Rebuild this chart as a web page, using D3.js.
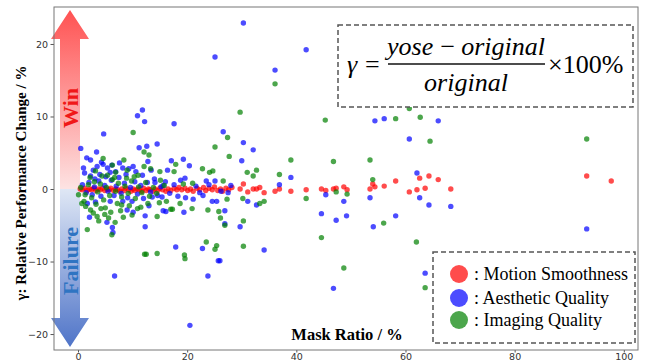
<!DOCTYPE html>
<html>
<head>
<meta charset="utf-8">
<script src="https://cdn.jsdelivr.net/npm/d3@7"></script>
<style>
  body { margin: 0; background: #fff; }
  svg { display: block; }
  .tick text { font-family: "DejaVu Sans", sans-serif; font-size: 9.5px; fill: #333; }
  .tick line { stroke: #555; }
</style>
</head>
<body>
<svg id="chart" width="652" height="362"></svg>
<script>
const SERIF = '"Liberation Serif", "Times New Roman", "DejaVu Serif", serif';

// series names (legend order)
const seriesNames = ['Motion Smoothness', 'Aesthetic Quality', 'Imaging Quality'];
const seriesColors = ['#ff0000', '#0000ff', '#008000'];

const xTicks = [0, 20, 40, 60, 80, 100];
const yTicks = [-20, -10, 0, 10, 20];

// [mask ratio %, relative change %]
const motionSmoothness = [
  [0.4, 0.0], [0.8, -0.1], [1.2, 0.1], [1.7, -0.2], [2.1, 0.0], [2.5, -0.1], [2.9, 0.1], [3.3, -0.2],
  [3.7, 0.0], [4.1, -0.1], [4.5, 0.1], [4.9, -0.2], [5.3, 0.0], [5.7, -0.1], [6.0, 0.1], [6.5, -0.2],
  [6.9, 0.0], [7.2, -0.1], [7.7, -0.3], [8.0, 0.0], [8.5, -0.2], [8.8, 0.1], [9.3, -0.1], [9.7, -0.3],
  [10.1, 0.0], [10.4, -0.2], [10.9, 0.0], [11.2, -0.1], [11.7, -0.3], [12.0, 0.1], [12.5, -0.2], [12.9, 0.0],
  [13.2, -0.1], [13.7, -0.3], [14.1, 0.0], [14.6, -0.2], [15.0, 0.1], [15.5, -0.1], [16.1, -0.3], [16.5, 0.0],
  [17.0, -0.2], [17.6, 0.1], [18.1, -0.1], [18.5, 0.2], [19.0, -0.1], [19.6, 0.1], [20.1, -0.2], [20.6, 0.0],
  [21.1, -0.3], [21.8, 0.1], [22.3, -0.1], [23.0, 0.2], [23.4, -0.2], [24.0, 0.1], [24.6, -0.1], [25.0, 0.3],
  [25.6, -0.2], [26.1, 0.0], [26.5, -0.3], [27.1, 0.1], [27.6, -0.1], [28.2, 0.2],
  [29.7, 0.0], [30.3, 0.7], [31.1, -0.4], [32.1, 0.0], [32.7, 0.0], [33.3, 0.2], [34.1, -0.5], [36.1, -0.3],
  [36.9, 0.0], [39.0, -0.3], [41.8, -0.1], [44.6, 0.0], [45.4, -0.2], [46.8, 0.0], [47.3, 0.1], [48.7, 0.3],
  [49.3, -0.1], [53.5, 0.0], [54.0, 0.7], [54.4, 0.3], [56.1, 0.4], [58.2, 1.1], [60.7, -0.4], [62.1, -0.1],
  [62.6, 1.5], [63.6, 0.1], [64.3, 1.8], [66.0, 1.3], [68.3, 0.0], [93.2, 1.8], [97.7, 1.1]
];

const aestheticQuality = [
  [30.3, 22.9], [41.8, 19.2], [25.1, 18.2], [36.1, 16.4], [11.8, 10.9], [10.9, 10.1], [12.2, 9.3], [17.6, 9.0],
  [54.4, 9.4], [56.1, 9.7], [66.0, 9.4], [26.6, 7.9], [4.7, 7.6], [30.3, 6.4], [60.7, 6.9], [0.5, 5.6],
  [11.2, 5.7], [12.6, 5.9], [14.5, 6.2], [3.4, 5.1], [32.1, 5.4], [1.6, 4.3], [2.3, 4.0], [4.3, 3.7],
  [4.6, 3.4], [3.5, 3.1], [1.0, 2.9], [12.8, 3.8], [10.1, 3.1], [8.2, 2.9], [9.3, 2.8], [17.1, 3.9],
  [19.3, 4.1], [20.4, 3.2], [16.4, 2.6], [30.0, 3.9], [2.3, 1.8], [5.1, 1.7], [5.9, 2.3], [14.1, 0.9],
  [15.6, 0.5], [18.8, 1.2], [19.6, 1.5], [23.5, 1.1], [25.1, 1.1], [39.0, 1.6], [62.1, 2.2], [36.9, 0.6],
  [1.2, 2.2], [2.8, 2.6], [4.0, 2.0], [5.4, 2.9], [6.9, 2.4], [7.6, 3.6], [8.8, 2.0], [10.6, 2.4],
  [11.8, 1.9], [13.4, 2.6], [6.2, 3.3], [3.1, 1.4],
  [0.8, 0.6], [1.5, -0.5], [2.0, 0.9], [2.6, -0.8], [3.0, 0.3], [3.8, 1.1], [4.2, -1.0], [4.9, 0.5],
  [5.5, -0.3], [6.1, 1.2], [6.6, -0.9], [7.0, 0.4], [7.5, 1.6], [7.9, -0.6], [8.5, 0.8], [9.1, -1.2],
  [9.6, 0.2], [10.4, 1.0], [10.9, -0.7], [11.5, 0.5], [12.0, -1.3], [12.7, 0.9], [13.3, -0.4], [14.0, 1.4],
  [14.6, -0.9], [15.2, 0.3], [16.0, 1.0], [16.8, -0.6], [17.6, 0.6], [18.3, -1.0], [21.6, 0.4], [22.3, -0.5],
  [24.0, 0.6], [26.2, -0.3], [28.0, 0.5],
  [27.5, -0.5], [31.1, -1.7], [32.7, -2.2], [45.4, -0.8], [48.7, -1.7], [53.5, -1.2], [62.6, -1.2], [64.3, -2.2],
  [68.3, -2.4], [26.9, -3.0], [26.9, -4.8], [29.7, -5.2], [44.6, -3.4], [47.3, -4.3], [49.2, -3.7], [54.1, -5.2],
  [58.2, -3.7], [34.1, -8.4], [26.0, -9.9], [46.8, -13.7], [63.6, -11.6], [93.2, -5.5], [97.7, -20.0], [19.7, -1.2],
  [21.1, -1.4], [22.9, -0.9], [24.6, -1.7], [25.4, -1.7], [19.4, -3.2], [16.1, -3.1], [17.9, -8.0], [22.8, -8.2],
  [25.7, -9.9], [23.8, -12.0], [2.1, -3.9], [5.3, -4.6], [6.3, -5.3], [6.4, -6.0], [12.3, -5.2], [12.3, -3.7],
  [9.0, -2.9], [10.1, -3.2], [13.0, -2.3], [8.2, -1.7], [9.9, -1.7], [5.9, -1.7], [3.2, -1.8], [1.7, -2.0],
  [13.6, -1.1], [15.4, -1.1], [15.6, -3.0], [6.7, -12.0], [20.5, -18.8]
];

const imagingQuality = [
  [36.1, 14.5], [54.4, 12.0], [68.3, 12.0], [60.7, 11.1], [29.7, 10.6], [45.3, 9.5], [58.2, 9.7], [62.7, 9.9],
  [10.1, 7.8], [27.4, 7.1], [64.5, 6.6], [93.2, 6.9], [25.1, 5.8], [27.7, 4.5], [12.1, 5.1], [13.0, 4.7],
  [4.6, 4.2], [8.4, 4.0], [39.0, 4.0], [46.8, 3.8], [53.5, 4.0], [17.9, 3.4], [17.6, 2.4], [22.8, 2.8],
  [24.1, 2.3], [24.7, 2.5], [31.0, 2.3], [32.1, 1.8], [32.7, 2.6], [36.9, 2.0], [21.0, 0.8], [19.3, 0.7],
  [26.6, 1.1], [15.8, 0.5], [54.0, 1.3], [6.3, 3.3], [15.0, 2.4], [13.3, 2.8], [12.1, 3.1], [9.0, 2.6],
  [6.9, 2.3], [3.2, 2.5], [5.4, 1.9], [10.3, 1.7],
  [0.5, 0.2], [1.3, -0.8], [1.9, 0.6], [2.5, -1.2], [3.0, 1.0], [3.6, -0.4], [4.1, 0.7], [4.7, -1.5],
  [5.2, 0.2], [5.8, -0.9], [6.3, 1.3], [6.9, -0.3], [7.4, 0.8], [8.0, -1.1], [8.6, 0.4], [9.2, -0.6],
  [9.8, 1.1], [10.5, -1.3], [11.1, 0.3], [11.7, -0.5], [12.4, 0.9], [13.1, -1.0], [13.8, 0.2], [14.4, -0.6],
  [15.1, 1.2], [2.2, 1.6], [4.4, 1.8], [6.7, 1.6], [8.9, 1.5], [11.0, 1.9], [1.4, -2.4], [3.3, -2.1],
  [5.0, -2.6], [7.2, -2.0], [9.4, -2.3], [12.8, -2.0], [14.9, -1.9], [4.9, -3.5], [7.8, -3.0], [2.8, -3.3],
  [9.9, -3.6], [5.6, -4.0], [0.1, -0.8], [0.7, -2.0],
  [30.2, -1.3], [33.3, -2.0], [34.1, -1.7], [41.8, -1.3], [47.3, -0.4], [49.3, -0.7], [30.3, -4.4], [26.9, -5.0],
  [30.3, -7.9], [44.6, -6.7], [56.0, -4.7], [62.0, -7.3], [48.7, -10.9], [63.6, -13.6], [66.0, -16.3], [97.7, -9.1],
  [16.2, -1.7], [17.0, -2.8], [18.7, -2.0], [20.9, -2.7], [23.8, -2.9], [25.8, -3.1], [26.1, -4.0], [27.3, -1.4],
  [23.5, -7.3], [25.4, -7.8], [25.1, -8.3], [19.5, -9.1], [19.6, -9.6], [1.7, -5.6], [3.8, -4.4], [6.2, -6.3],
  [6.0, -3.2], [8.3, -3.9], [6.8, -4.6], [11.5, -2.5], [14.5, -3.8], [12.2, -9.0], [12.5, -9.0], [14.5, -8.9],
  [2.3, -2.9], [4.2, -2.7], [1.1, -1.7], [3.5, -3.8], [8.0, -2.2], [10.9, -2.7], [17.3, -2.8]
];

const allSeries = [motionSmoothness, aestheticQuality, imagingQuality];

const svg = d3.select('#chart');
const margin = { top: 7, right: 14, bottom: 12, left: 54 };
const width = 652 - margin.left - margin.right;
const height = 362 - margin.top - margin.bottom;

const xScale = d3.scaleLinear().domain([-4.4, 102.6]).range([margin.left, margin.left + width]);
const yScale = d3.scaleLinear().domain([-22.2, 25.1]).range([margin.top + height, margin.top]);

// Gradients for win / failure arrows
const defs = svg.append('defs');
const upGrad = defs.append('linearGradient')
  .attr('id', 'win-grad').attr('x1', '0').attr('y1', '0').attr('x2', '0').attr('y2', '1');
upGrad.append('stop').attr('offset', '0%').attr('stop-color', '#ff5252');
upGrad.append('stop').attr('offset', '100%').attr('stop-color', '#fde3e3');
const downGrad = defs.append('linearGradient')
  .attr('id', 'fail-grad').attr('x1', '0').attr('y1', '0').attr('x2', '0').attr('y2', '1');
downGrad.append('stop').attr('offset', '0%').attr('stop-color', '#dfe7f5');
downGrad.append('stop').attr('offset', '100%').attr('stop-color', '#4f74c8');

const y0 = yScale(0);
const ax = 70; // arrow center
svg.append('path')
  .attr('d', `M${ax - 10},${y0} L${ax - 10},39 L${ax - 19},39 L${ax},10 L${ax + 19},39 L${ax + 10},39 L${ax + 10},${y0} Z`)
  .attr('fill', 'url(#win-grad)');
svg.append('path')
  .attr('d', `M${ax - 10},${y0} L${ax - 10},318 L${ax - 19},318 L${ax},347 L${ax + 19},318 L${ax + 10},318 L${ax + 10},${y0} Z`)
  .attr('fill', 'url(#fail-grad)');

svg.append('text')
  .attr('transform', `translate(${ax + 8},108) rotate(-90)`)
  .attr('text-anchor', 'middle')
  .style('font-family', SERIF)
  .style('font-size', '22px').style('font-weight', 'bold')
  .attr('fill', '#f01818')
  .text('Win');
svg.append('text')
  .attr('transform', `translate(${ax + 8},261) rotate(-90)`)
  .attr('text-anchor', 'middle')
  .style('font-family', SERIF)
  .style('font-size', '22px').style('font-weight', 'bold')
  .attr('fill', '#2f74c2')
  .text('Failure');

// Axes
const xAxis = svg.append('g')
  .attr('transform', `translate(0,${margin.top + height})`)
  .call(d3.axisBottom(xScale).tickValues(xTicks).tickSize(2.5).tickPadding(1));
const yAxis = svg.append('g')
  .attr('transform', `translate(${margin.left},0)`)
  .call(d3.axisLeft(yScale).tickValues(yTicks).tickSize(3.5).tickPadding(2.5));
xAxis.select('.domain').remove();
yAxis.select('.domain').remove();

svg.append('rect')
  .attr('x', margin.left).attr('y', margin.top)
  .attr('width', width).attr('height', height)
  .attr('fill', 'none').attr('stroke', '#777').attr('stroke-width', 1);

// Points
allSeries.forEach((data, i) => {
  svg.append('g')
    .selectAll('circle')
    .data(data)
    .enter()
    .append('circle')
    .attr('cx', (d) => xScale(d[0]))
    .attr('cy', (d) => yScale(d[1]))
    .attr('r', 2.7)
    .attr('fill', seriesColors[i])
    .attr('fill-opacity', 0.7);
});

// Axis titles
svg.append('text')
  .attr('transform', `translate(26,183) rotate(-90)`)
  .attr('text-anchor', 'middle')
  .style('font-family', SERIF)
  .style('font-size', '15px').style('font-weight', 'bold')
  .text('γ: Relative Performance Change / %');
svg.append('text')
  .attr('x', 347).attr('y', 340)
  .attr('text-anchor', 'middle')
  .style('font-family', SERIF)
  .style('font-size', '16.5px').style('font-weight', 'bold')
  .text('Mask Ratio / %');

// Formula box
svg.append('rect')
  .attr('x', 338).attr('y', 25).attr('width', 295).attr('height', 82)
  .attr('fill', 'white').attr('stroke', '#555').attr('stroke-width', 1.5)
  .attr('stroke-dasharray', '5,3');
const formula = svg.append('g').style('font-family', SERIF).style('font-size', '26px');
formula.append('text').attr('x', 347).attr('y', 73).style('font-style', 'italic').text('γ');
formula.append('text').attr('x', 365).attr('y', 73).text('=');
formula.append('text').attr('x', 466).attr('y', 55).attr('text-anchor', 'middle')
  .style('font-style', 'italic').text('yose\u2009−\u2009original');
formula.append('line').attr('x1', 388).attr('x2', 545).attr('y1', 64).attr('y2', 64)
  .attr('stroke', '#111').attr('stroke-width', 1.3);
formula.append('text').attr('x', 466).attr('y', 91).attr('text-anchor', 'middle')
  .style('font-style', 'italic').text('original');
formula.append('text').attr('x', 548).attr('y', 73).text('×100%');

// Legend
svg.append('rect')
  .attr('x', 433).attr('y', 252).attr('width', 202).attr('height', 91)
  .attr('fill', 'white').attr('stroke', '#555').attr('stroke-width', 1.5)
  .attr('stroke-dasharray', '5,3');
const legendY = [274, 298, 320];
seriesNames.forEach((name, i) => {
  svg.append('circle')
    .attr('cx', 459).attr('cy', legendY[i]).attr('r', 9)
    .attr('fill', seriesColors[i]).attr('fill-opacity', 0.7);
  svg.append('text')
    .attr('x', 474).attr('y', legendY[i] + 6)
    .style('font-family', SERIF)
    .style('font-size', '18px')
    .text(': ' + name);
});
</script>
</body>
</html>
